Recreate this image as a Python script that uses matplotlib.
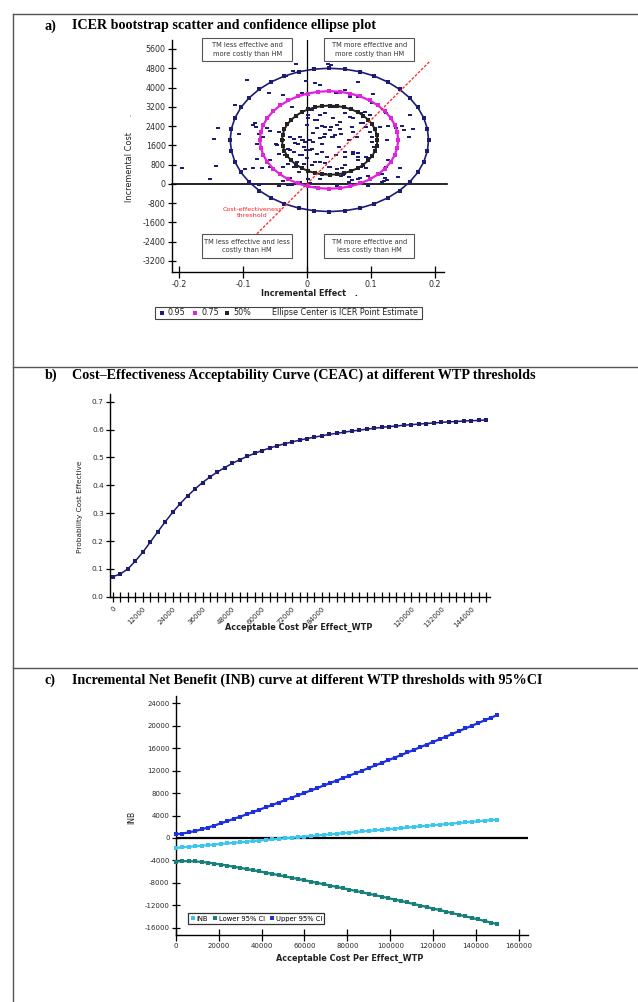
import numpy as np
import matplotlib
matplotlib.use('Agg')
import matplotlib.pyplot as plt
from matplotlib.lines import Line2D
from matplotlib.patches import Rectangle

plt.rcParams['font.family'] = ['DejaVu Sans']
plt.rcParams['axes.unicode_minus'] = False

# ---------------- DATA ----------------
# Panel a: bootstrap replicates (incremental effect, incremental cost)
bootstrap_points = [
    (-0.196, 655), (-0.151, 209), (-0.142, 739), (-0.139, 2328), (-0.146, 1882), (-0.112, 3276),
    (-0.093, 4321), (-0.106, 2063), (-0.022, 4698), (-0.017, 4990), (0.033, 4977), (0.038, 4936),
    (0.146, 655), (0.159, 1952), (0.149, 2398), (0.121, 139), (-0.085, 0), (-0.075, -30),
    (-0.069, 10), (0.079, 209), (0.0125, 4176), (0.080, 4243), (0.046, 3761), (0.067, 3620),
    (0.103, 3732), (0.161, 2860), (0.091, 2998), (0.098, 2860), (0.067, 2790), (0.052, 2582),
    (0.041, 2723), (0.020, 2860), (0.0125, 2653), (0.002, 2723), (-0.0005, 2445), (0.015, 2308),
    (0.028, 2374), (0.036, 2237), (0.052, 2266), (0.070, 2374), (0.085, 2515), (0.093, 2349),
    (0.114, 2349), (0.127, 2403), (0.139, 2308), (0.151, 2237), (0.166, 2266), (0.010, 2100),
    (0.026, 1960), (0.044, 2030), (0.078, 1960), (0.101, 1960), (-0.060, 3761), (-0.037, 3690),
    (-0.024, 3205), (-0.081, 2515), (-0.080, 2349), (-0.058, 2208), (-0.068, 1960), (-0.078, 1034),
    (-0.097, 619), (-0.084, 646), (-0.071, 646), (-0.058, 992), (-0.047, 1615), (-0.034, 1200),
    (-0.027, 1407), (-0.021, 714), (-0.016, 922), (-0.008, 1200), (-0.013, 508), (-0.027, 232),
    (-0.029, -46), (-0.019, 1685), (-0.003, 1752), (-0.006, 1822), (0.010, 1752), (0.020, 1893),
    (0.039, 1960), (0.101, 1752), (0.125, 1822), (0.005, 1407), (0.023, 1337), (0.046, 1200),
    (0.059, 1130), (0.072, 1337), (0.080, 1270), (0.096, 1062), (0.000, 1062), (0.0125, 922),
    (0.028, 855), (0.036, 714), (0.054, 646), (0.085, 714), (0.093, 646), (0.057, 369),
    (0.070, 162), (0.083, 232), (0.101, -17), (0.122, 257), (0.125, 162), (0.005, 25),
    (0.015, -116), (-0.027, 1952), (-0.021, 1882), (-0.011, 1952), (-0.008, 1812), (-0.014, 1673),
    (-0.004, 1533), (-0.030, 1464), (-0.021, 1324), (-0.011, 1185), (-0.001, 1394), (0.008, 1464),
    (0.005, 1812), (0.015, 1255), (0.024, 1673), (0.031, 1115), (0.040, 1952), (0.050, 1533),
    (0.060, 1324), (0.072, 1255), (0.079, 1115), (0.066, 1812), (0.053, 2091), (0.037, 2370),
    (0.024, 2398), (0.015, 2649), (0.002, 2858), (0.008, 3067), (0.028, 2927), (0.040, 3206),
    (0.060, 2927), (0.072, 2718), (0.085, 2927), (0.088, 2509), (0.098, 2161), (0.072, 2161),
    (0.047, 2440), (0.028, 2091), (-0.043, 2161), (-0.037, 1812), (-0.043, 1255), (-0.030, 836),
    (-0.017, 697), (-0.004, 836), (0.008, 767), (0.021, 906), (0.034, 697), (0.047, 627),
    (0.060, 767), (0.079, 976), (0.092, 1115), (0.104, 1533), (-0.085, 2440), (-0.075, 2091),
    (-0.062, 2328), (-0.049, 1673), (-0.078, 1673), (-0.069, 1255), (-0.057, 697), (-0.037, 697),
    (0.127, 976), (0.124, 697), (0.117, 418), (0.095, 348), (0.066, 279), (0.053, 348),
    (0.028, 418), (0.021, 209), (0.002, 209), (-0.011, 70), (-0.024, -28), (-0.037, 139),
    (-0.043, -70), (0.012, -139), (0.047, -70), (0.066, 70), (0.095, -70), (0.117, 70),
    (0.143, 279), (0.021, 4112), (-0.001, 4252), (-0.008, 3764), (-0.033, 4461), (0.060, 3903),
    (0.079, 3624), (0.101, 3346), (0.124, 2927),
]
ellipse_labels = ['0.95', '0.75', '50%']
ellipse_center_effect = [0.035, 0.0345, 0.0355]
ellipse_center_cost = [1825, 1825, 1815]
ellipse_semi_effect = [0.155, 0.108, 0.0745]
ellipse_semi_cost = [2975, 2025, 1435]
threshold_wtp = 26500
threshold_effect_ends = [-0.083, 0.193]
a_xticks = [-0.2, -0.1, 0, 0.1, 0.2]
a_xticklabels = ['-0.2', '-0.1', '0', '0.1', '0.2']
a_yticks = [5600, 4800, 4000, 3200, 2400, 1600, 800, 0, -800, -1600, -2400, -3200]
quadrant_texts = ['TM less effective and\nmore costly than HM', 'TM more effective and\nmore costly than HM',
                  'TM less effective and less\ncostly than HM', 'TM more effective and\nless costly than HM']

# Panel b: CEAC
wtp_b = [0, 3000, 6000, 9000, 12000, 15000, 18000, 21000, 24000, 27000, 30000, 33000, 36000,
         39000, 42000, 45000, 48000, 51000, 54000, 57000, 60000, 63000, 66000, 69000, 72000,
         75000, 78000, 81000, 84000, 87000, 90000, 93000, 96000, 99000, 102000, 105000, 108000,
         111000, 114000, 117000, 120000, 123000, 126000, 129000, 132000, 135000, 138000, 141000,
         144000, 147000, 150000]
ceac_prob = [0.072, 0.082, 0.100, 0.128, 0.160, 0.196, 0.233, 0.269, 0.303, 0.334, 0.362, 0.387,
             0.410, 0.430, 0.448, 0.464, 0.479, 0.492, 0.504, 0.515, 0.525, 0.534, 0.542, 0.549,
             0.556, 0.562, 0.568, 0.573, 0.578, 0.583, 0.587, 0.591, 0.595, 0.598, 0.602, 0.605,
             0.608, 0.611, 0.613, 0.616, 0.618, 0.620, 0.622, 0.624, 0.626, 0.628, 0.629, 0.631,
             0.632, 0.633, 0.635]
b_labelled_ticks = [0, 12000, 24000, 36000, 48000, 60000, 72000, 84000, 120000, 132000, 144000]
b_yticks = [0.0, 0.1, 0.2, 0.3, 0.4, 0.5, 0.6, 0.7]

# Panel c: INB with 95% CI
wtp_c = wtp_b
inb = [-1780, -1679, -1578, -1476, -1375, -1274, -1173, -1072, -970, -869, -768, -667, -566,
       -464, -363, -262, -161, -60, 42, 143, 244, 345, 446, 548, 649, 750, 851, 952, 1054, 1155,
       1256, 1357, 1458, 1560, 1661, 1762, 1863, 1964, 2066, 2167, 2268, 2369, 2470, 2572, 2673,
       2774, 2875, 2976, 3078, 3179, 3280]
inb_upper = [650, 791, 982, 1234, 1525, 1856, 2217, 2598, 2990, 3391, 3792, 4203, 4614, 5036,
             5457, 5878, 6309, 6740, 7172, 7603, 8034, 8465, 8906, 9348, 9789, 10230, 10671,
             11112, 11564, 12015, 12466, 12917, 13378, 13840, 14301, 14762, 15233, 15704, 16176,
             16647, 17118, 17589, 18070, 18552, 19033, 19514, 19995, 20476, 20958, 21439, 21930]
inb_lower = [-4210, -4149, -4138, -4186, -4275, -4404, -4563, -4742, -4930, -5129, -5328, -5537,
             -5746, -5964, -6183, -6402, -6631, -6860, -7088, -7317, -7546, -7775, -8014, -8252,
             -8491, -8730, -8969, -9208, -9456, -9705, -9954, -10203, -10462, -10720, -10979,
             -11238, -11507, -11776, -12044, -12313, -12582, -12851, -13130, -13408, -13687,
             -13966, -14245, -14524, -14802, -15081, -15370]
c_series_labels = ['INB', 'Lower 95% CI', 'Upper 95% CI']
c_xticks = [0, 20000, 40000, 60000, 80000, 100000, 120000, 140000, 160000]
c_yticks = [24000, 20000, 16000, 12000, 8000, 4000, 0, -4000, -8000, -12000, -16000]

titles = ['ICER bootstrap scatter and confidence ellipse plot',
          'Cost\u2013Effectiveness Acceptability Curve (CEAC) at different WTP thresholds',
          'Incremental Net Benefit (INB) curve at different WTP thresholds with 95%CI']

# ---------------- STYLE ----------------
NAVY = '#1c1c72'
MAGENTA = '#e024de'
BLACK = '#222222'
INB_C = '#3cc6ee'
LOW_C = '#17807a'
UP_C = '#1d30de'
TICKC = '#2a2a2a'
DASH = [(-1.6, -1.0), (1.6, -1.0), (1.6, 1.0), (-1.6, 1.0), (-1.6, -1.0)]

W, H = 638, 1002
fig = plt.figure(figsize=(W / 100, H / 100), dpi=100)


def fx(px):
    return px / W


def fy(py):
    return 1 - py / H


# frame lines
for seg in [([fx(13), fx(13)], [fy(14), 0]), ([fx(13), 1], [fy(14), fy(14)]),
            ([fx(13), 1], [fy(367), fy(367)]), ([fx(13), 1], [fy(668), fy(668)])]:
    fig.add_artist(Line2D(seg[0], seg[1], color='#555555', lw=1.0))

title_kw = dict(family='Liberation Serif', weight='bold', fontsize=10.2, va='center', ha='left')
for lab, t, ypx in zip(['a)', 'b)', 'c)'], titles, [26, 375, 680]):
    fig.text(fx(45), fy(ypx), lab, **title_kw)
    fig.text(fx(72), fy(ypx), t, **title_kw)


def style_axes(ax, lsize=5.5):
    for s in ['top', 'right']:
        ax.spines[s].set_visible(False)
    for s in ['left', 'bottom']:
        ax.spines[s].set_linewidth(1.0)
        ax.spines[s].set_color('black')
    ax.tick_params(direction='inout', length=6, width=0.9, labelsize=lsize,
                   labelcolor=TICKC, pad=1.5)


# ---------------- PANEL A ----------------
ax = fig.add_axes([fx(172), fy(272), fx(444) - fx(172), fy(40) - fy(272)])
ax.set_xlim(-0.2109, 0.2141)
ax.set_ylim(-3657, 5973)
style_axes(ax, 5.7)
ax.tick_params(axis='x', length=8)
ax.set_xticks(a_xticks)
ax.set_xticklabels(a_xticklabels)
ax.set_yticks(a_yticks)
ax.set_yticklabels([str(v) for v in a_yticks])

ax.axhline(0, color='black', lw=1.2, xmax=1.01, clip_on=False, zorder=2)
ax.axvline(0, color='black', lw=0.9, zorder=2)

ang = np.linspace(0, 2 * np.pi, 41)
ell_colors = [NAVY, MAGENTA, BLACK]
ell_lw = [1.2, 1.6, 1.4]
for cx, cy, sx, sy, col, lw in zip(ellipse_center_effect, ellipse_center_cost, ellipse_semi_effect,
                                   ellipse_semi_cost, ell_colors, ell_lw):
    ax.plot(cx + sx * np.cos(ang), cy + sy * np.sin(ang), '-s', color=col, lw=lw, ms=2.5,
            mew=0, zorder=4)

px_, py_ = zip(*bootstrap_points)
ax.plot(px_, py_, ls='', marker=DASH, color=NAVY, ms=2.6, mew=0, zorder=3)

tx = np.array(threshold_effect_ends)
ax.plot(tx, threshold_wtp * tx, color='#ff2020', lw=0.9, ls=(0, (2.2, 1.3)), zorder=5)
ax.text(-0.0856, -1180, 'Cost-effectiveness\nthreshold', color='#ff2020', fontsize=4.6,
        ha='center', va='center', linespacing=1.4, zorder=6)

box_x = [(-0.1637, -0.0233), (0.0269, 0.1675), (-0.1637, -0.0233), (0.0269, 0.1675)]
box_y = [(5102, 6056), (5102, 6056), (-3089, -2093), (-3089, -2093)]
for (x0, x1), (y0, y1), txt in zip(box_x, box_y, quadrant_texts):
    ax.add_patch(Rectangle((x0, y0), x1 - x0, y1 - y0, fill=True, facecolor='white',
                           edgecolor='#555555', lw=0.8, clip_on=False, zorder=6))
    ax.text((x0 + x1) / 2, (y0 + y1) / 2, txt, fontsize=4.8, ha='center', va='center',
            color='#333333', linespacing=1.45, zorder=7)

fig.text(fx(130), fy(158), 'Incremental Cost      .', rotation=90, fontsize=5.9,
         ha='center', va='center', color='#222222')
fig.text(fx(309), fy(294), 'Incremental Effect   .', fontsize=5.9, weight='bold',
         ha='center', va='center', color='#222222')

# legend box for panel a
leg_rect = Rectangle((fx(155), fy(319)), fx(422) - fx(155), fy(307) - fy(319),
                     transform=fig.transFigure, fill=False, edgecolor='#444444', lw=0.8)
fig.add_artist(leg_rect)
for xpx, col, lab in zip([162, 195, 227], ell_colors, ellipse_labels):
    fig.add_artist(Line2D([fx(xpx)], [fy(313)], marker='s', ms=3.0, mew=0, color=col, ls=''))
    fig.text(fx(xpx + 6), fy(313), lab, fontsize=5.8, va='center', ha='left', color='#222222')
t = fig.text(fx(272), fy(313), 'Ellipse Center is ICER Point Estimate', fontsize=5.8,
             va='center', ha='left', color='#222222')
t.set_clip_path(leg_rect)

# ---------------- PANEL B ----------------
axb = fig.add_axes([fx(110), fy(596.7), fx(490) - fx(110), fy(394) - fy(596.7)])
axb.set_xlim(-1200, 151600)
axb.set_ylim(0, 0.728)
style_axes(axb, 5.3)
axb.set_yticks(b_yticks)
axb.set_yticklabels(['%.1f' % v for v in b_yticks])
axb.set_xticks(wtp_b)
axb.set_xticklabels([str(v) if v in b_labelled_ticks else '' for v in wtp_b], rotation=45,
                    ha='right', va='top', rotation_mode='anchor', fontsize=5)
axb.tick_params(axis='x', length=7, pad=3)
axb.plot(wtp_b, ceac_prob, '-s', color=NAVY, lw=1.1, ms=2.5, mew=0, clip_on=False, zorder=3)
fig.text(fx(80), fy(507), 'Probability Cost Effective', rotation=90, fontsize=5.3,
         ha='center', va='center', color='#222222')
fig.text(fx(299), fy(627), 'Acceptable Cost Per Effect_WTP', fontsize=5.9, weight='bold',
         ha='center', va='center', color='#222222')

# ---------------- PANEL C ----------------
axc = fig.add_axes([fx(175.8), fy(935), fx(527.7) - fx(175.8), fy(696) - fy(935)])
axc.set_xlim(0, 164100)
axc.set_ylim(-17300, 25300)
style_axes(axc, 5.0)
axc.tick_params(axis='x', length=8)
axc.set_xticks(c_xticks)
axc.set_xticklabels([str(v) for v in c_xticks])
axc.set_yticks(c_yticks)
axc.set_yticklabels([str(v) for v in c_yticks])
axc.axhline(0, color='black', lw=1.6, zorder=2)
series_c = [inb, inb_lower, inb_upper]
cols_c = [INB_C, LOW_C, UP_C]
for ys, col in zip(series_c, cols_c):
    axc.plot(wtp_c, ys, '-s', color=col, lw=1.6, ms=2.3, mew=0, clip_on=False, zorder=3)
handles = [Line2D([], [], marker='s', ls='', color=c, ms=2.8, mew=0) for c in cols_c]
leg = axc.legend(handles, c_series_labels, ncol=3, fontsize=4.9, loc='lower left',
                 bbox_to_anchor=(0.0347, 0.046), borderaxespad=0, handletextpad=0.2,
                 columnspacing=0.7, handlelength=0.7, borderpad=0.35, fancybox=False,
                 framealpha=1)
leg.get_frame().set_edgecolor('#333333')
leg.get_frame().set_linewidth(0.9)
fig.text(fx(132), fy(817), 'INB', rotation=90, fontsize=5.5, ha='center', va='center',
         color='#222222')
fig.text(fx(350), fy(958), 'Acceptable Cost Per Effect_WTP', fontsize=5.9, weight='bold',
         ha='center', va='center', color='#222222')

fig.savefig('out.png', dpi=100)
